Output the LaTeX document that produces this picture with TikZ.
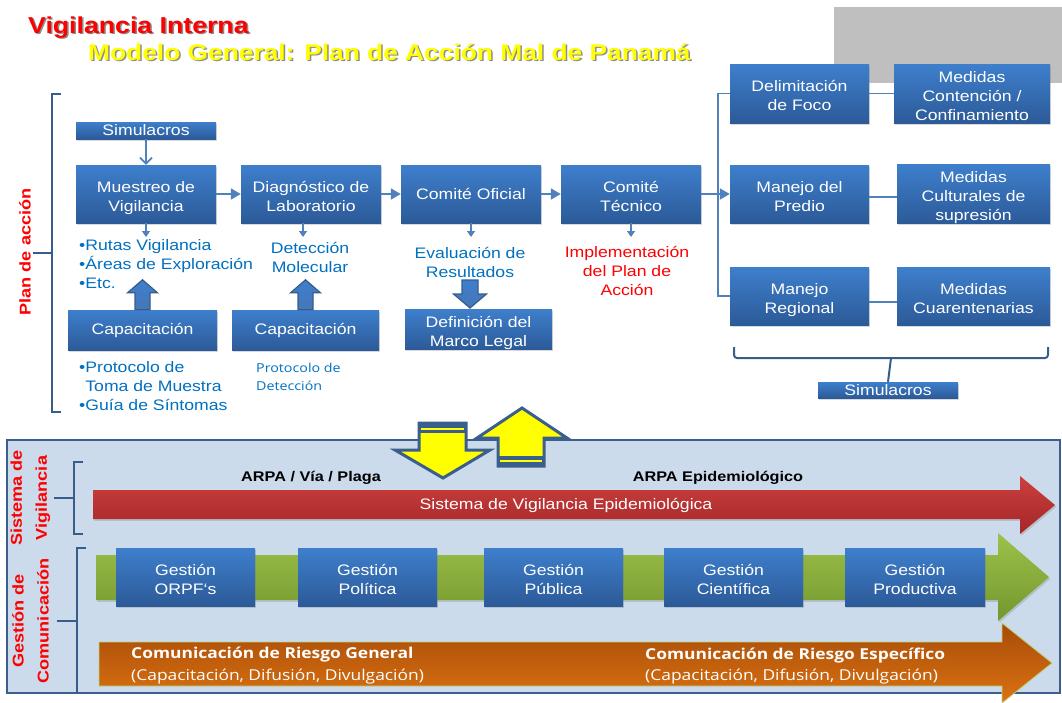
\documentclass[tikz,border=0pt]{standalone}
\usepackage{fontspec}
\setmainfont{Liberation Sans}[FakeStretch=1.16]
\newfontfamily\osfont{Open Sans}[FakeStretch=1.16]
\usetikzlibrary{arrows.meta,shadows,calc}
\definecolor{boxtop}{RGB}{62,127,204}
\definecolor{boxbot}{RGB}{44,90,152}
\definecolor{conncol}{RGB}{79,129,189}
\definecolor{brkcol}{RGB}{56,93,138}
\definecolor{bluetxt}{RGB}{0,112,192}
\definecolor{panelfill}{RGB}{204,219,235}
\definecolor{panelbd}{RGB}{58,95,140}
\definecolor{graybox}{RGB}{191,191,191}
\definecolor{ylw}{RGB}{255,255,0}
\definecolor{redtop}{RGB}{203,64,62}
\definecolor{redbot}{RGB}{165,38,40}
\definecolor{grntop}{RGB}{157,194,74}
\definecolor{grnbot}{RGB}{116,150,46}
\definecolor{orgtop}{RGB}{166,76,8}
\definecolor{orgbot}{RGB}{220,114,18}
\definecolor{blkarr}{RGB}{70,118,184}
\tikzset{
  bx/.style={rectangle, inner sep=0pt, top color=boxtop, bottom color=boxbot,
    text=white, align=center, font=\fontsize{15.2}{19}\selectfont,
    drop shadow={shadow xshift=1.3pt,shadow yshift=-1.6pt,opacity=0.3}},
  bxm/.style={bx, text height=37pt, text depth=3pt},
  bxt/.style={bx, text height=56pt, text depth=3pt},
  conn/.style={draw=conncol, line width=1.8pt},
  tri/.style={-{Triangle[length=10pt,width=11pt]}},
  smallarr/.style={draw=conncol, line width=1.3pt, -{Triangle[length=6pt,width=8pt]}},
  brk/.style={draw=brkcol, line width=2pt},
  bluet/.style={text=bluetxt, font=\fontsize{15.2}{19}\selectfont, inner sep=0pt},
  redlab/.style={text=red, font=\fontsize{15.6}{25}\bfseries\selectfont, align=center, inner sep=0pt},
  blockar/.style={draw=brkcol, line width=1.2pt, top color=boxtop, bottom color=blkarr},
  yarrow/.style={draw=panelbd, line width=3pt, fill=ylw, line join=miter},
  uparrow/.pic={\path[blockar] (-7.5,0) -- (-7.5,-17) -- (-15,-17) -- (0,-30) -- (15,-17) -- (7.5,-17) -- (7.5,0) -- cycle;},
  downarrow/.pic={\path[blockar] (-8,0) -- (-8,14) -- (-16.5,14) -- (0,28) -- (16.5,14) -- (8,14) -- (8,0) -- cycle;},
  barshadow/.style={drop shadow={shadow xshift=1.3pt,shadow yshift=-1.8pt,opacity=0.3}}
}
\begin{document}
\begin{tikzpicture}[x=1pt,y=-1pt]
\useasboundingbox (0,0) rectangle (1062,702);
\fill[graybox] (834,7) rectangle (1062,83);

% titles
\node[anchor=base west, inner sep=0pt, text=black!75, opacity=0.6, font=\fontsize{23}{27}\bfseries\selectfont] (t1s) at (29.5,34.8) {Vigilancia Interna};
\node[anchor=base west, inner sep=0pt, text=red, font=\fontsize{23}{27}\bfseries\selectfont] (t1) at (28,33) {Vigilancia Interna};
\node[anchor=base west, inner sep=0pt, text=black!75, opacity=0.6, font=\fontsize{22.7}{27}\bfseries\selectfont] (t2s) at (89.5,61.8) {Modelo General: Plan de Acción Mal de Panamá};
\node[anchor=base west, inner sep=0pt, text=ylw, font=\fontsize{22.7}{27}\bfseries\selectfont] (t2) at (88,60) {Modelo General: Plan de Acción Mal de Panamá};

% Plan de accion bracket
\draw[brk] (61,94) -- (52,94) -- (52,412) -- (61,412);
\draw[brk] (52,253) -- (33,253);
\node[redlab, rotate=90] (plan) at (25,252) {Plan de acción};

% boxes
\node[bx, minimum width=140pt, minimum height=17pt] (sim1) at (146,130.5) {Simulacros};
\node[bxm, minimum width=140pt, minimum height=58pt] (mue) at (146,194) {Muestreo de\\Vigilancia};
\node[bxm, minimum width=140pt, minimum height=58pt] (diag) at (311,194) {Diagnóstico de\\Laboratorio};
\node[bx, minimum width=140pt, minimum height=58pt] (co) at (471,194) {Comité Oficial};
\node[bxm, minimum width=140pt, minimum height=58pt] (ct) at (631,194) {Comité\\Técnico};
\node[bxm, minimum width=139pt, minimum height=59pt] (delim) at (799.5,93.5) {Delimitación\\de Foco};
\node[bxt, minimum width=156pt, minimum height=59pt] (medc) at (972,93.5) {Medidas\\Contención /\\Confinamiento};
\node[bxm, minimum width=139pt, minimum height=58pt] (predio) at (799.5,194) {Manejo del\\Predio};
\node[bxt, minimum width=153pt, minimum height=58pt] (cult) at (973.5,194) {Medidas\\Culturales de\\supresión};
\node[bxm, minimum width=139pt, minimum height=58pt] (reg) at (799.5,296) {Manejo\\Regional};
\node[bxm, minimum width=153pt, minimum height=58pt] (cuar) at (973.5,296) {Medidas\\Cuarentenarias};
\node[bx, minimum width=140pt, minimum height=16pt] (sim2) at (888,390) {Simulacros};
\node[bx, minimum width=149pt, minimum height=40pt] (cap1) at (142.5,330) {Capacitación};
\node[bx, minimum width=147pt, minimum height=40pt] (cap2) at (305.5,330) {Capacitación};
\node[bxm, minimum width=147pt, minimum height=39pt] (def) at (478.5,329.5) {Definición del\\Marco Legal};

% text blocks
\node[bluet, anchor=west, align=left] (rutas) at (79,264) {•Rutas Vigilancia\\•Áreas de Exploración\\•Etc.};
\node[bluet, align=center] (detec) at (310,257) {Detección\\Molecular};
\node[bluet, align=center] (eval) at (470,262) {Evaluación de\\Resultados};
\node[bluet, align=center, text=red] (impl) at (627,271) {Implementación\\del Plan de\\Acción};
\node[bluet, anchor=west, align=left] (prot1) at (79,386) {•Protocolo de\\\hphantom{•}Toma de Muestra\\•Guía de Síntomas};
\node[bluet, anchor=west, align=left, font=\osfont\fontsize{12.3}{18}\selectfont] (prot2) at (256,377) {Protocolo de\\Detección};

% connectors
\draw[conn, -{Straight Barb[length=6pt,width=12pt]}] (sim1.south) -- (mue.north);
\draw[conn, tri] (mue.east) -- (diag.west);
\draw[conn, tri] (diag.east) -- (co.west);
\draw[conn, tri] (co.east) -- (ct.west);
\coordinate (sp) at (718,194);
\draw[conn] (ct.east) -- (sp);
\draw[conn, tri] (sp) -- (predio.west);
\draw[conn] (delim.west) -| (sp) |- (reg.west);
\draw[conn] (delim.east) -- (medc.west);
\draw[conn] ([yshift=-3pt]predio.east) -- ([yshift=-3pt]cult.west);
\draw[conn] ([yshift=-6pt]reg.east) -- ([yshift=-6pt]cuar.west);
\draw[smallarr] (mue.south) -- (mue.south |- 0,237);
\draw[smallarr] (diag.south -| 303,0) -- (303,237);
\draw[smallarr] (co.south) -- (co.south |- 0,237);
\draw[smallarr] (ct.south) -- (ct.south |- 0,237);

% block arrows
\pic at (cap1.north) {uparrow};
\pic at (cap2.north) {uparrow};
\pic at (470,280) {downarrow};

% simulacros bracket
\draw[brk, rounded corners=3pt] (734,347) -- (734,358) -- (1048,358) -- (1048,347);
\draw[brk] (891,358) -- (sim2.north);

% bottom panel
\draw[draw=panelbd, line width=2.5pt, fill=panelfill] (7,440) rectangle (1060,693);

% side brackets and labels
\draw[brk] (83,462) -- (74,462) -- (74,534) -- (83,534);
\draw[brk] (74,498) -- (54,498);
\draw[brk] (86,548) -- (77,548) -- (77,693) -- (86,693);
\draw[brk] (77,621) -- (57,621);
\node[redlab, rotate=90] (sisv) at (30.5,498) {Sistema de\\Vigilancia};
\node[redlab, rotate=90] (gesc) at (30.5,621) {Gestión de\\Comunicación};

% red arrow
\shade[top color=redtop, bottom color=redbot, barshadow] (93,490) -- (1020,490) -- (1020,476) -- (1055,505) -- (1020,534) -- (1020,519) -- (93,519) -- cycle;
\node[inner sep=0pt, text=white, font=\fontsize{15.2}{19}\selectfont] (sve) at (566,505) {Sistema de Vigilancia Epidemiológica};
\node[inner sep=0pt, font=\fontsize{14}{17}\bfseries\selectfont] (arpa1) at (311,478) {ARPA / Vía / Plaga};
\node[inner sep=0pt, font=\fontsize{14}{17}\bfseries\selectfont] (arpa2) at (718,478) {ARPA Epidemiológico};

% green arrow
\shade[top color=grntop, bottom color=grnbot, barshadow] (96,555) -- (998,555) -- (998,533) -- (1049,577) -- (998,621) -- (998,600) -- (96,600) -- cycle;
\node[bxm, minimum width=139pt, minimum height=58pt] (g1) at (185.5,577) {Gestión\\ORPF{\char"60}s};
\node[bxm, minimum width=139pt, minimum height=58pt] (g2) at (367.5,577) {Gestión\\Política};
\node[bxm, minimum width=139pt, minimum height=58pt] (g3) at (553.5,577) {Gestión\\Pública};
\node[bxm, minimum width=139pt, minimum height=58pt] (g4) at (733.5,577) {Gestión\\Científica};
\node[bxm, minimum width=140pt, minimum height=58pt] (g5) at (915,577) {Gestión\\Productiva};

% orange arrow
\shade[top color=orgtop, bottom color=orgbot, draw=grntop!70, line width=0.8pt] (99,642) -- (1002,642) -- (1002,623) -- (1052,663) -- (1002,703) -- (1002,686) -- (99,686) -- cycle;
\node[anchor=west, inner sep=0pt, text=white, font=\osfont\fontsize{15}{18}\bfseries\selectfont] (cr1) at (131,655) {Comunicación de Riesgo General};
\node[anchor=west, inner sep=0pt, text=white, font=\osfont\fontsize{15}{18}\selectfont] (cr1b) at (131,677) {(Capacitación, Difusión, Divulgación)};
\node[anchor=west, inner sep=0pt, text=white, font=\osfont\fontsize{15}{18}\bfseries\selectfont] (cr2) at (645,656) {Comunicación de Riesgo Específico};
\node[anchor=west, inner sep=0pt, text=white, font=\osfont\fontsize{15}{18}\selectfont] (cr2b) at (645,677) {(Capacitación, Difusión, Divulgación)};

% yellow arrows
\path[yarrow] (419,423) -- (466,423) -- (466,450) -- (490,450) -- (443,478) -- (395,450) -- (419,450) -- cycle;
\fill[panelbd] (419,423) rectangle (466,433);
\draw[ylw, line width=1.2pt] (421,429) -- (464,429);
\path[yarrow] (522,408) -- (567,438) -- (544,438) -- (544,466) -- (498,466) -- (498,438) -- (477,438) -- cycle;
\fill[panelbd] (498,456) rectangle (544,466);
\draw[ylw, line width=1.2pt] (500,461) -- (542,461);
\end{tikzpicture}
\end{document}
